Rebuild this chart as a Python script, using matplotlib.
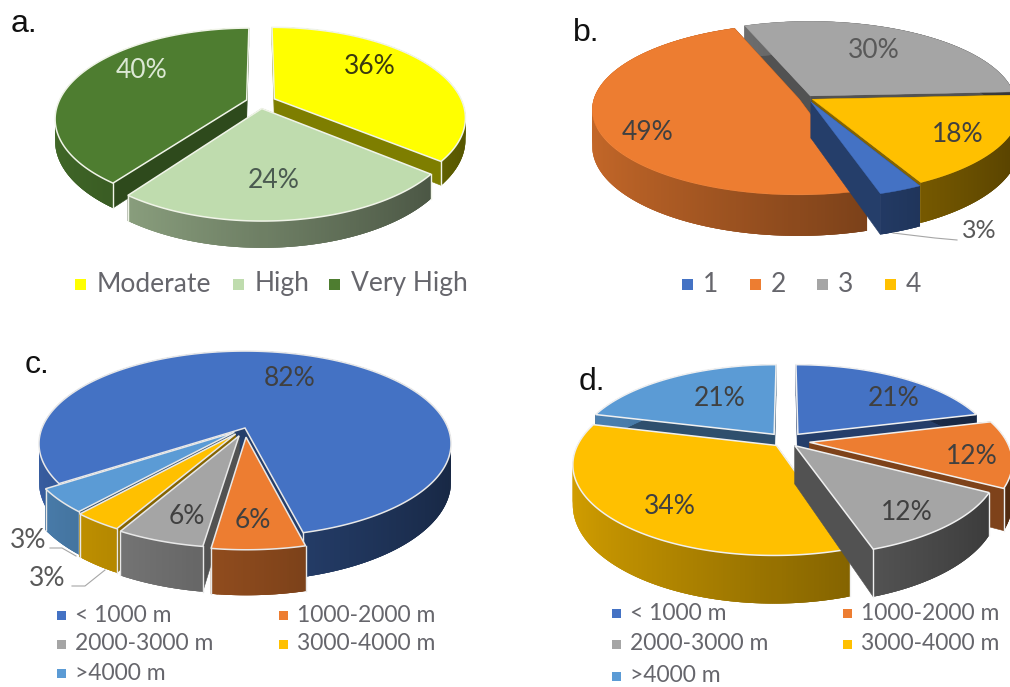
import numpy as np
import matplotlib
matplotlib.use("Agg")
import matplotlib.pyplot as plt
from matplotlib.colors import to_rgb
from matplotlib.patches import Polygon, Rectangle

plt.rcParams['font.family'] = ['Lato', 'DejaVu Sans']

# data
a_names = ['Moderate', 'High', 'Very High']
a_values = [36, 24, 40]
b_names = ['1', '2', '3', '4']
b_values = [3, 49, 30, 18]
c_names = ['< 1000 m', '1000-2000 m', '2000-3000 m', '3000-4000 m', '>4000 m']
c_values = [82, 6, 6, 3, 3]
# slice shares as they appear in panel c of the picture (printed labels are c_values)
c_shares = [80.6, 6.1, 5.8, 3.3, 4.2]
d_values = [21, 12, 12, 34, 21]

a_colors = ['#FFFF00', '#BFDCAE', '#4E7D30']
office = ['#4472C4', '#ED7D31', '#A5A5A5', '#FFC000', '#5B9BD5']
b_colors = office[:4]
TXT = '#404040'
LEG = '#66666C'

fig = plt.figure(figsize=(10.10, 6.87), dpi=100)
ax = fig.add_axes([0, 0, 1, 1])
ax.set_xlim(0, 1010)
ax.set_ylim(687, 0)
ax.axis('off')


def scale(c, f):
    return tuple(min(1, x * f) for x in to_rgb(c))


def pie3d(values, colors, start, cx, cy, rx, ry, k, depth, explode, edge=None):
    total = sum(values)
    angs = start + np.cumsum([0] + list(values)) * 360.0 / total
    slices = [(angs[i], angs[i + 1], c, explode[i]) for i, c in enumerate(colors)]
    slices.sort(key=lambda s: -np.cos(np.radians((s[0] + s[1]) / 2)))

    def proj(u, v, d=0.0):
        w = 1 - k * v
        return cx + rx * u / w, cy + (ry * v + d) / w

    for t0, t1, col, e in slices:
        mid = np.radians((t0 + t1) / 2)
        ou, ov = e * np.sin(mid), -e * np.cos(mid)
        th = np.radians(np.linspace(t0, t1, max(int(t1 - t0) * 2, 8)))
        us, vs = ou + np.sin(th), ov - np.cos(th)
        lum = np.mean(to_rgb(col))
        fr = 0.40 + 0.28 * (1 - lum)
        for u, v in ((us[0], vs[0]), (us[-1], vs[-1])):
            q = [proj(ou, ov), proj(u, v), proj(u, v, depth), proj(ou, ov, depth)]
            ax.add_patch(Polygon(q, closed=True, fc=scale(col, fr), ec=scale(col, fr), lw=0.4, zorder=1))
        # curved outer wall: overlapping strips, back to front, no seams
        n = len(us) - 1
        order = np.argsort(vs[:-1] + vs[1:])
        for j in order:
            j2 = min(j + 2, n)
            j1 = max(j2 - 3, 0)
            xn = (us[j] + us[j + 1]) / 2
            f = 0.82 - 0.24 * (np.clip(xn, -1, 1) + 1)
            q = [proj(us[i], vs[i]) for i in range(j1, j2 + 1)] + \
                [proj(us[i], vs[i], depth) for i in range(j2, j1 - 1, -1)]
            ax.add_patch(Polygon(q, closed=True, fc=scale(col, f), ec='none', zorder=1))
        if edge:
            for u, v in ((us[0], vs[0]), (us[-1], vs[-1])):
                if v > -0.2:
                    p0, p1 = proj(u, v), proj(u, v, depth)
                    ax.plot([p0[0], p1[0]], [p0[1], p1[1]], color=edge, lw=1.0, zorder=1)
        top = [proj(ou, ov)] + [proj(u, v) for u, v in zip(us, vs)]
        ax.add_patch(Polygon(top, closed=True, fc=col, ec=edge or col, lw=1.1 if edge else 0.3, zorder=1))


def legend(items, fs=18, sq=10, gap=8):
    for name, col, x, y in items:
        ax.add_patch(Rectangle((x, y - sq / 2), sq, sq, fc=col, ec='none', zorder=3))
        ax.text(x + sq + gap, y, name, fontsize=fs, color=LEG, va='center', ha='left', zorder=4)


def label(x, y, s, color=TXT, fs=19):
    ax.text(x, y, s, fontsize=fs, color=color, ha='center', va='center', zorder=5)


def pct(v):
    return f'{v}%'


# panel a
pie3d(a_values, a_colors, 0, 260, 102, 188, 87, 0.2, 21, [0.085, 0.075, 0.075], edge='#F0F4E8')
label(370, 67, pct(a_values[0]), '#3a3a10')
label(274, 181, pct(a_values[1]), '#4A5A50')
label(142, 70, pct(a_values[2]), '#DCE8D4')
legend([(a_names[0], a_colors[0], 75, 284), (a_names[1], a_colors[1], 233, 284), (a_names[2], a_colors[2], 329, 284)], fs=19, sq=11, gap=11)

# panel b
pie3d(b_values, b_colors, 152, 807, 98, 205, 84, 0.12, 36, [0.05, 0.04, 0.03, 0.03])
label(874, 50, pct(b_values[2]), '#595959')
label(648, 132, pct(b_values[1]))
label(958, 134, pct(b_values[3]))
label(979, 231, pct(b_values[0]), '#595959', 18)
ax.plot([893, 935, 957], [233, 238, 240], color='#a6a6a6', lw=0.8, zorder=4)
legend([(b_names[0], b_colors[0], 682, 284), (b_names[1], b_colors[1], 750, 284), (b_names[2], b_colors[2], 817, 284), (b_names[3], b_colors[3], 885, 284)], fs=19, sq=11, gap=10)

# panel c
pie3d(c_shares, office, 236, 245, 428, 203, 90, 0.17, 37, [0.0, 0.1, 0.09, 0.08, 0.07], edge='#E8E8E8')
label(290, 379, pct(c_values[0]))
label(253, 521, pct(c_values[1]))
label(187, 516, pct(c_values[2]))
label(47, 578, pct(c_values[3]), '#595959')
label(28, 541, pct(c_values[4]), '#595959')
ax.plot([50, 62, 76], [548, 548, 556], color='#a6a6a6', lw=0.8, zorder=4)
ax.plot([72, 85, 105], [586, 586, 570], color='#a6a6a6', lw=0.8, zorder=4)
legend([(c_names[0], office[0], 57, 615), (c_names[1], office[1], 279, 615), (c_names[2], office[2], 57, 644),
        (c_names[3], office[3], 279, 644), (c_names[4], office[4], 57, 673)], fs=16.5, sq=9, gap=9)

# panel d
pie3d(d_values, office, 0, 786, 441, 197, 86, 0.2, 38, [0.1, 0.12, 0.07, 0.07, 0.1], edge='#F0F0F0')
label(894, 398, pct(d_values[0]))
label(972, 457, pct(d_values[1]))
label(907, 513, pct(d_values[2]))
label(670, 507, pct(d_values[3]))
label(720, 398, pct(d_values[4]))
legend([(c_names[0], office[0], 612, 613), (c_names[1], office[1], 843, 613), (c_names[2], office[2], 612, 644),
        (c_names[3], office[3], 843, 644), (c_names[4], office[4], 612, 676)], fs=16.5, sq=9, gap=9)

# panel letters
for s, x, y in (('a.', 11, 24), ('b.', 573, 33), ('c.', 25, 365), ('d.', 579, 382)):
    ax.text(x, y, s, fontsize=23, family='Liberation Sans', color='#111111', va='center', ha='left', zorder=6)

fig.savefig('out.png', dpi=100, facecolor='white')
